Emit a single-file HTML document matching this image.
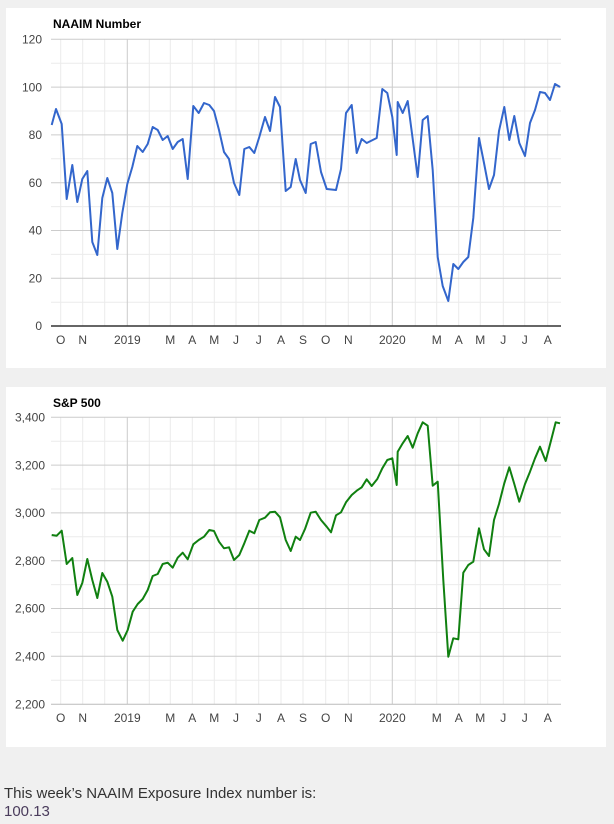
<!DOCTYPE html>
<html><head><meta charset="utf-8"><style>
html,body{margin:0;padding:0;width:614px;height:824px;background:#f0f0f0;overflow:hidden}
svg{position:absolute;left:0;top:0}
.t{position:absolute;left:4px;font-family:"Liberation Sans",sans-serif;font-size:15px;color:#333}
</style></head><body>
<svg width="614" height="824" xmlns="http://www.w3.org/2000/svg" font-family="Liberation Sans, Arial, sans-serif">
<rect x="6" y="8" width="600" height="360" fill="#fff"/>
<rect x="6" y="387" width="600" height="360" fill="#fff"/>
<g stroke="#ebebeb" stroke-width="1">
<path d="M51 63.2H561M51 111H561M51 158.8H561M51 206.6H561M51 254.4H561M51 302.2H561"/>
<path d="M51 441.2H561M51 489H561M51 536.8H561M51 584.6H561M51 632.4H561M51 680.2H561"/>
<path d="M60.7 39V326M82.7 39V326M104.7 39V326M149.3 39V326M170.3 39V326M192.3 39V326M214.3 39V326M236 39V326M258.7 39V326M281 39V326M303 39V326M325.7 39V326M348.3 39V326M370.3 39V326M415.3 39V326M436.7 39V326M458.7 39V326M480.3 39V326M503.3 39V326M524.7 39V326M547.7 39V326"/>
<path d="M60.7 417V704M82.7 417V704M104.7 417V704M149.3 417V704M170.3 417V704M192.3 417V704M214.3 417V704M236 417V704M258.7 417V704M281 417V704M303 417V704M325.7 417V704M348.3 417V704M370.3 417V704M415.3 417V704M436.7 417V704M458.7 417V704M480.3 417V704M503.3 417V704M524.7 417V704M547.7 417V704"/>
</g>
<g stroke="#ccc" stroke-width="1">
<path d="M51 39.3H561M51 87.1H561M51 134.9H561M51 182.7H561M51 230.5H561M51 278.3H561"/>
<path d="M51 417.3H561M51 465.1H561M51 512.9H561M51 560.7H561M51 608.5H561M51 656.3H561"/>
<path d="M127.3 39V326M392.3 39V326M127.3 417V704M392.3 417V704"/>
</g>
<path d="M51 326H561" stroke="#333" stroke-width="1.5"/>
<path d="M51 704.3H561" stroke="#bbb" stroke-width="1"/>
<text x="53" y="28" font-size="12" font-weight="bold" fill="#000">NAAIM Number</text>
<text x="53" y="407" font-size="12" font-weight="bold" fill="#000">S&amp;P 500</text>
<g font-size="12" fill="#444" text-anchor="end">
<text x="42" y="43.5">120</text><text x="42" y="91.3">100</text><text x="42" y="139">80</text><text x="42" y="187">60</text><text x="42" y="234.7">40</text><text x="42" y="282.5">20</text><text x="42" y="330.2">0</text>
<text x="45" y="421.5">3,400</text><text x="45" y="469.3">3,200</text><text x="45" y="517">3,000</text><text x="45" y="565">2,800</text><text x="45" y="612.7">2,600</text><text x="45" y="660.5">2,400</text><text x="45" y="708.5">2,200</text>
</g>
<g font-size="12" fill="#444" text-anchor="middle">
<g>
<text x="60.7" y="344">O</text><text x="82.7" y="344">N</text><text x="127.3" y="344">2019</text><text x="170.3" y="344">M</text><text x="192.3" y="344">A</text><text x="214.3" y="344">M</text><text x="236" y="344">J</text><text x="258.7" y="344">J</text><text x="281" y="344">A</text><text x="303" y="344">S</text><text x="325.7" y="344">O</text><text x="348.3" y="344">N</text><text x="392.3" y="344">2020</text><text x="436.7" y="344">M</text><text x="458.7" y="344">A</text><text x="480.3" y="344">M</text><text x="503.3" y="344">J</text><text x="524.7" y="344">J</text><text x="547.7" y="344">A</text>
</g>
<g transform="translate(0,378)">
<text x="60.7" y="344">O</text><text x="82.7" y="344">N</text><text x="127.3" y="344">2019</text><text x="170.3" y="344">M</text><text x="192.3" y="344">A</text><text x="214.3" y="344">M</text><text x="236" y="344">J</text><text x="258.7" y="344">J</text><text x="281" y="344">A</text><text x="303" y="344">S</text><text x="325.7" y="344">O</text><text x="348.3" y="344">N</text><text x="392.3" y="344">2020</text><text x="436.7" y="344">M</text><text x="458.7" y="344">A</text><text x="480.3" y="344">M</text><text x="503.3" y="344">J</text><text x="524.7" y="344">J</text><text x="547.7" y="344">A</text>
</g>
</g>
<polyline fill="none" stroke="#3366cc" stroke-width="2" stroke-linejoin="round" points="51.7,125 56,109 61.7,124 66.7,199 72.3,165 77.3,202 82.3,179 87.3,171 92.3,242 97.3,255 102.3,198 107.3,178 112.3,193 117.3,249 122.3,213 127.3,184 132.3,167 137.3,146 142.7,152 147.7,144 152.7,127 157.7,130 162.7,140 167.7,136 172.7,149 177.7,142 182.7,139 187.7,179 193.3,106 198.7,113 204,103 209.3,105 214,111 219,130 224,152 229,159 234,183 239.3,195 244.3,149 249.3,147 254.3,153 259.3,137 265,117 270,131 275,97 280,107 285.7,191 290.7,187 295.7,159 300,180 305.7,193 310.7,144 315.7,142 321,172 326.7,189 336,190 341,169 346,113 351.7,105 356.7,153 361.7,139 366.7,143 376.7,138 382.3,89 387.3,93 392.3,117 396.7,155 397.7,102 402.7,113 407.7,101 412.7,139 417.7,177 422.7,120 427.7,116 432.7,170 437.7,257 442.7,286 448.3,301 453.3,264 458.3,269 463.3,262 468.3,257 473.3,218 479,138 484,163 489,189 494,175 499,131 504.3,107 509.3,140 514.3,116 519.3,143 525,156 530,123 535,110 540,92 545,93 550,100 555,84 560,87"/>
<polyline fill="none" stroke="#108010" stroke-width="2" stroke-linejoin="round" points="51.7,535 56.7,535.7 61.7,530.7 66.7,564 72.3,558 77.3,595 82.3,583 87.3,559 92.3,580 97.3,598 102.3,573 107.3,581.7 112.3,596.7 117.3,630 122.7,640.7 127.7,630 132.7,611.7 137.7,604 142.7,599 147.7,590 152.7,576 157.7,574 162.7,564 167.7,562.7 172.7,567.7 177.7,557.7 182.7,552.7 187.7,559.3 193.3,544.3 198.7,540 204,536.7 209.3,530 214,531 219,541.7 224,548.3 229,547.3 234,560 239.3,555 244.3,543.3 249.3,530.7 254.3,533.3 259.3,520 265,517.7 270,512.3 275,511.7 280,517.3 285.7,540 290.7,551 295.7,536.7 300,540 305,529 310.7,512.7 315.7,511.7 321,520 326.7,526.7 331,532.3 336,515.3 341,512.3 346,502.3 351.7,495 356.7,490.7 361.7,487.3 366.7,479.3 371.7,486 377.3,479 382.3,468.3 387.3,460 392.3,458.3 396.7,485 397.7,451.7 402.7,443.3 407.7,436 412.7,447.7 417.7,433.3 422.7,422.3 427.7,425.7 432.7,485.7 437.7,481.7 443.3,580 448.3,656.7 453.3,638.3 458.3,639.3 463.3,572.7 468.3,565 473.3,561.7 479,528.3 484,549.3 489,556 494,520 499,504 504.3,483.3 509.3,467.3 514.3,484 519.3,501.7 525,484 530,471.7 535,458.3 540,446.7 545.7,461 550.7,441.7 555.7,422.3 560,423.3"/>
</svg>
<div class="t" style="top:785px">This week’s NAAIM Exposure Index number is:</div>
<div class="t" style="top:803px;color:#4a3c5c">100.13</div>
</body></html>
